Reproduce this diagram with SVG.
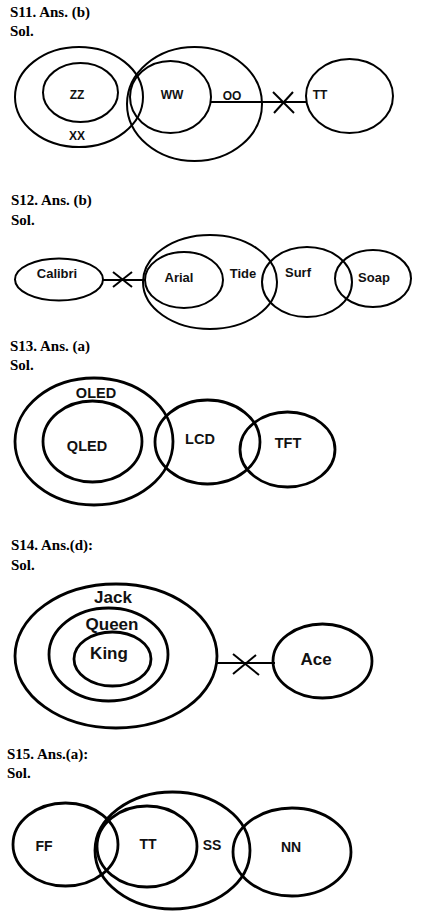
<svg xmlns="http://www.w3.org/2000/svg" width="432" height="923" viewBox="0 0 432 923">
<style>
.h{font-family:"Liberation Serif","DejaVu Serif",serif;font-weight:bold;font-size:15px;fill:#000}
.e{fill:none;stroke:#000;stroke-width:2}
.e3{fill:none;stroke:#000;stroke-width:2.8}
.t{font-family:"Liberation Sans",Arial,sans-serif;font-weight:bold;fill:#111;text-anchor:middle}
.c{stroke:#000;stroke-width:2;fill:none}
</style>
<rect width="432" height="923" fill="#fff"/>
<g id="headings">
<text class="h" x="10" y="17">S11. Ans. (b)</text>
<text class="h" x="10" y="36">Sol.</text>
<text class="h" x="11" y="205">S12. Ans. (b)</text>
<text class="h" x="11" y="225">Sol.</text>
<text class="h" x="10" y="351">S13. Ans. (a)</text>
<text class="h" x="10" y="370">Sol.</text>
<text class="h" x="11" y="550">S14. Ans.(d):</text>
<text class="h" x="11" y="570">Sol.</text>
<text class="h" x="7" y="759">S15. Ans.(a):</text>
<text class="h" x="7" y="778">Sol.</text>
</g>
<!-- S11 -->
<g id="s11-XX"><ellipse class="e" cx="79" cy="97" rx="64" ry="50"/><text class="t" x="77" y="140" font-size="12">XX</text></g>
<g id="s11-ZZ"><ellipse class="e" cx="80.5" cy="92.5" rx="37.5" ry="29.5"/><text class="t" x="77" y="99" font-size="12">ZZ</text></g>
<g id="s11-OO"><ellipse class="e" cx="194.5" cy="104" rx="67.5" ry="57"/><text class="t" x="232" y="100" font-size="12">OO</text></g>
<g id="s11-WW"><ellipse class="e" cx="170.5" cy="97" rx="40.5" ry="36"/><text class="t" x="172" y="99" font-size="12">WW</text></g>
<g id="s11-TT"><ellipse class="e" cx="349.5" cy="96" rx="43.5" ry="37"/><text class="t" x="320" y="99" font-size="12">TT</text></g>
<!-- S12 -->
<g id="s12-Calibri"><ellipse class="e" cx="59" cy="279.5" rx="44" ry="21"/><text class="t" x="57" y="278" font-size="13">Calibri</text></g>
<g id="s12-Tide"><ellipse class="e" cx="210" cy="282" rx="67" ry="47"/><text class="t" x="243" y="278" font-size="13">Tide</text></g>
<g id="s12-Arial"><ellipse class="e" cx="184" cy="280" rx="39" ry="28"/><text class="t" x="179" y="282" font-size="13">Arial</text></g>
<g id="s12-Surf"><ellipse class="e" cx="307" cy="282" rx="45" ry="35"/><text class="t" x="298" y="277" font-size="13">Surf</text></g>
<g id="s12-Soap"><ellipse class="e" cx="373" cy="278.5" rx="38" ry="28.5"/><text class="t" x="374" y="282" font-size="13">Soap</text></g>
<!-- S13 -->
<g id="s13-OLED"><ellipse class="e3" cx="94" cy="441.5" rx="79" ry="63.5"/><text class="t" x="96" y="398" font-size="14.5">OLED</text></g>
<g id="s13-QLED"><ellipse class="e3" cx="92.5" cy="441.5" rx="49.5" ry="40.5"/><text class="t" x="87" y="451" font-size="14.5">QLED</text></g>
<g id="s13-LCD"><ellipse class="e3" cx="207.5" cy="442" rx="52.5" ry="42"/><text class="t" x="200" y="444" font-size="14.5">LCD</text></g>
<g id="s13-TFT"><ellipse class="e3" cx="287.5" cy="449.5" rx="47.5" ry="37.5"/><text class="t" x="288" y="448" font-size="14.5">TFT</text></g>
<!-- S14 -->
<g id="s14-Jack"><ellipse class="e3" cx="116" cy="656" rx="101" ry="72"/><text class="t" x="113" y="603" font-size="17">Jack</text></g>
<g id="s14-Queen"><ellipse class="e3" cx="108.5" cy="654.5" rx="59.5" ry="46.5"/><text class="t" x="112" y="630" font-size="17">Queen</text></g>
<g id="s14-King"><ellipse class="e3" cx="112.5" cy="659" rx="38.5" ry="27"/><text class="t" x="109" y="659" font-size="17">King</text></g>
<g id="s14-Ace"><ellipse class="e3" cx="322.5" cy="661" rx="49.5" ry="37"/><text class="t" x="316" y="665" font-size="17">Ace</text></g>
<!-- S15 -->
<g id="s15-FF"><ellipse class="e3" cx="65.5" cy="844.5" rx="52.5" ry="41.5"/><text class="t" x="44" y="851" font-size="14">FF</text></g>
<g id="s15-SS"><ellipse class="e3" cx="172.5" cy="850.5" rx="77.5" ry="58.5"/><text class="t" x="212" y="850" font-size="14">SS</text></g>
<g id="s15-TT"><ellipse class="e3" cx="147" cy="846.5" rx="50" ry="40.5"/><text class="t" x="148" y="849" font-size="14">TT</text></g>
<g id="s15-NN"><ellipse class="e3" cx="292" cy="852" rx="59" ry="44"/><text class="t" x="291" y="852" font-size="14">NN</text></g>
<g id="connectors">
<line class="c" x1="211" y1="102" x2="307" y2="102"/>
<line class="c" x1="273" y1="92" x2="294" y2="113"/>
<line class="c" x1="293" y1="92" x2="274" y2="113"/>
<line class="c" x1="103" y1="280" x2="145" y2="280" stroke-width="2.5"/>
<line class="c" x1="113" y1="272" x2="132" y2="287" stroke-width="2.5"/>
<line class="c" x1="132" y1="272" x2="113" y2="287" stroke-width="2.5"/>
<line class="c" x1="217" y1="663" x2="275" y2="663" stroke-width="3"/>
<line class="c" x1="233" y1="654" x2="259" y2="675" stroke-width="3"/>
<line class="c" x1="256" y1="655" x2="233" y2="674" stroke-width="3"/>
</g>
</svg>
